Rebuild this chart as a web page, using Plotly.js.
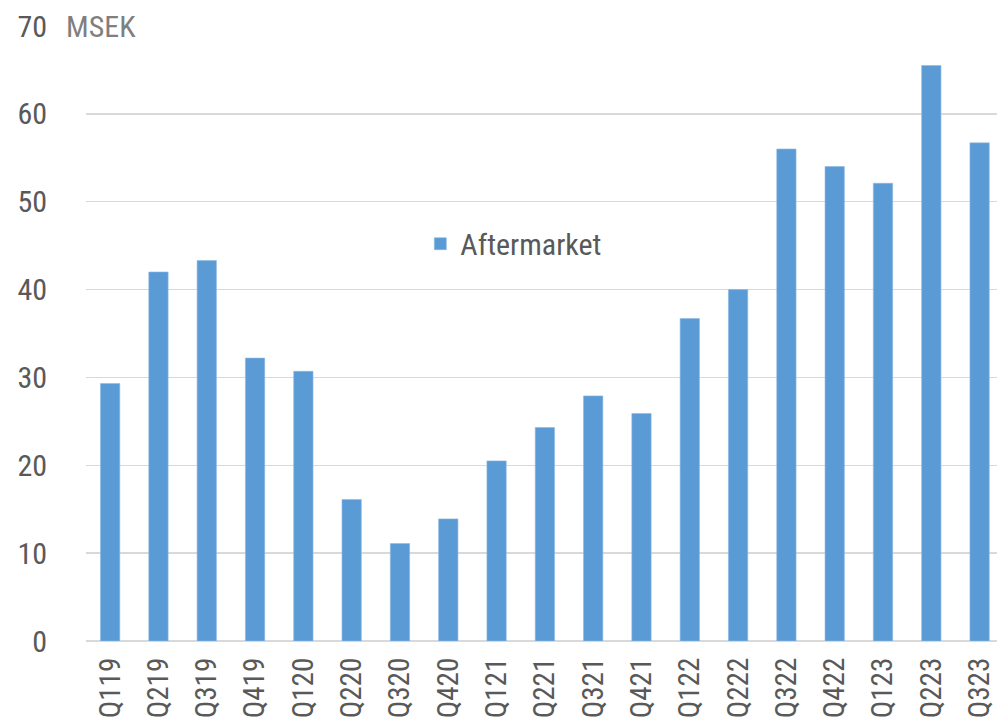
<!DOCTYPE html>
<html>
<head>
<meta charset="utf-8">
<script src="https://cdn.plot.ly/plotly-3.0.1.min.js"></script>
<style>html,body{margin:0;padding:0;background:#fff;}#chart{width:997px;height:720px;}</style>
</head>
<body>
<div id="chart"></div>
<script>
const quarters = ["Q119","Q219","Q319","Q419","Q120","Q220","Q320","Q420","Q121","Q221","Q321","Q421","Q122","Q222","Q322","Q422","Q123","Q223","Q323"];
const aftermarket = [29.3,42.0,43.3,32.2,30.7,16.1,11.1,13.9,20.5,24.3,27.9,25.9,36.7,40.0,56.0,54.0,52.1,65.5,56.7];
const yTicks = [0,10,20,30,40,50,60,70];
const seriesName = "Aftermarket";
const unitLabel = "MSEK";

const FONT = "Roboto Condensed, Liberation Sans Narrow, DejaVu Sans Condensed, Roboto, sans-serif";

const trace = {
  type: "bar",
  x: quarters,
  y: aftermarket,
  name: seriesName,
  marker: {color: "#5b9bd5", line: {color: "#8db8e2", width: 0.6}},
  showlegend: true,
  hoverinfo: "x+y"
};

const layout = {
  width: 997,
  height: 720,
  margin: {l: 86, r: 0, t: 26, b: 79, pad: 0},
  paper_bgcolor: "#ffffff",
  plot_bgcolor: "#ffffff",
  font: {family: FONT, color: "#595959", size: 30},
  bargap: 0.6,
  showlegend: true,
  xaxis: {
    type: "category",
    categoryorder: "array",
    categoryarray: quarters,
    range: [-0.5, 18.36],
    tickangle: -90,
    ticklabelstandoff: 10,
    showgrid: false,
    zeroline: false,
    showline: false,
    ticks: "",
    tickfont: {family: FONT, size: 29, color: "#595959"},
    automargin: false,
    fixedrange: true
  },
  yaxis: {
    range: [0, 70],
    tickvals: yTicks,
    ticktext: yTicks.map(String),
    showgrid: true,
    gridcolor: "#d9d9d9",
    gridwidth: 1.5,
    zeroline: true,
    zerolinecolor: "#d9d9d9",
    zerolinewidth: 1.5,
    showline: false,
    ticks: "",
    ticklabelstandoff: 38,
    tickfont: {family: FONT, size: 30, color: "#595959"},
    automargin: false,
    fixedrange: true
  },
  legend: {
    x: 0.367,
    y: 0.646,
    xanchor: "left",
    yanchor: "middle",
    bgcolor: "rgba(0,0,0,0)",
    font: {family: FONT, size: 30, color: "#595959"}
  },
  annotations: [{
    text: unitLabel,
    xref: "paper",
    yref: "y",
    x: -0.026,
    y: 70,
    xanchor: "left",
    yanchor: "middle",
    showarrow: false,
    bgcolor: "#ffffff",
    borderpad: 3,
    font: {family: FONT, size: 30, color: "#7f7f7f"}
  }]
};

Plotly.newPlot("chart", [trace], layout, {displayModeBar: false, staticPlot: true});
</script>
</body>
</html>
